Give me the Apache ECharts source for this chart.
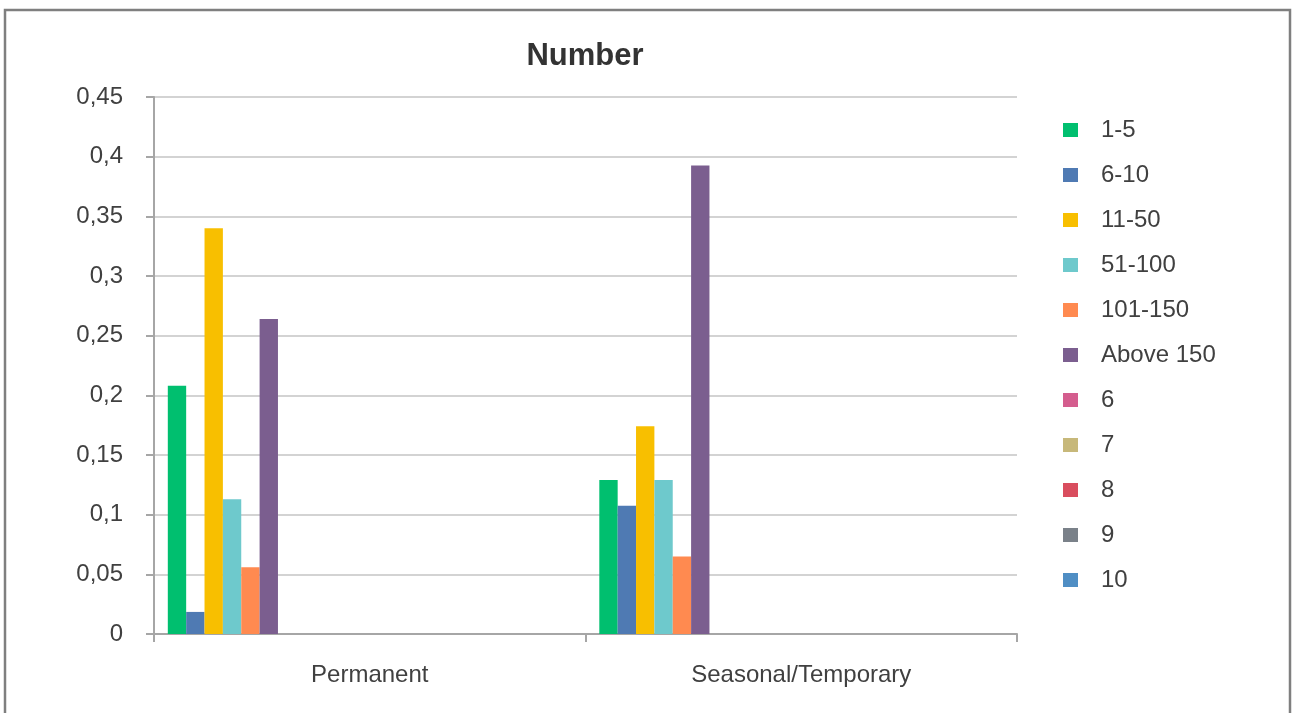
<!DOCTYPE html>
<html>
<head>
<meta charset="utf-8">
<script src="https://cdn.jsdelivr.net/npm/echarts@6/dist/echarts.min.js"></script>
<style>
  html, body { margin: 0; padding: 0; background: #ffffff; }
  #chart { width: 1293px; height: 713px; }
</style>
</head>
<body>
<div id="chart"></div>
<script>
// Share of workers by company size, per contract type
const categories = ['Permanent', 'Seasonal/Temporary'];
const seriesNames = ['1-5', '6-10', '11-50', '51-100', '101-150', 'Above 150', '6', '7', '8', '9', '10'];
const seriesColors = ['#00BF6F', '#4F7AB3', '#F8BF00', '#6EC9CC', '#FF8A50', '#7B5E8F',
                      '#D45D8E', '#C7B87A', '#D94D5E', '#7A8189', '#4F8EC4'];
const values1to5 = [0.208, 0.129];
const values6to10 = [0.0185, 0.1075];
const values11to50 = [0.34, 0.174];
const values51to100 = [0.113, 0.129];
const values101to150 = [0.056, 0.065];
const valuesAbove150 = [0.264, 0.3925];
const values6 = [0, 0];
const values7 = [0, 0];
const values8 = [0, 0];
const values9 = [0, 0];
const values10 = [0, 0];
// Unlabelled empty series slots that follow the named ones in each cluster
const emptySlotNames = ['11', '12', '13', '14', '15', '16', '17', '18', '19', '20', '21'];
const emptySlotValues = [0, 0];
const yTicks = { min: 0, max: 0.45, interval: 0.05 };

const seriesValues = [values1to5, values6to10, values11to50, values51to100, values101to150,
                      valuesAbove150, values6, values7, values8, values9, values10];

const FONT = '"Liberation Sans", Arial, sans-serif';
const TEXT = '#404040';

const series = seriesNames.map((name, i) => ({
  name: name,
  type: 'bar',
  data: seriesValues[i],
  itemStyle: { color: seriesColors[i] },
  barGap: '0%',
  barCategoryGap: '6.4%'
}));
emptySlotNames.forEach(name => {
  series.push({ name: name, type: 'bar', data: emptySlotValues, barGap: '0%', barCategoryGap: '6.4%', silent: true });
});

const chart = echarts.init(document.getElementById('chart'), null, { renderer: 'canvas' });
chart.setOption({
  animation: false,
  backgroundColor: '#ffffff',
  textStyle: { fontFamily: FONT },
  title: {
    text: 'Number',
    left: 580,
    textAlign: 'center',
    top: 36,
    textStyle: { fontFamily: FONT, fontSize: 31, fontWeight: 'bold', color: '#333333' }
  },
  graphic: [{
    type: 'rect',
    shape: { x: 5, y: 10, width: 1285, height: 740 },
    style: { fill: 'none', stroke: '#7f7f7f', lineWidth: 2.5 },
    silent: true
  }],
  legend: {
    data: seriesNames,
    orient: 'vertical',
    left: 1058,
    top: 113,
    itemWidth: 15,
    itemHeight: 14,
    itemGap: 21,
    icon: 'rect',
    selectedMode: false,
    textStyle: { fontFamily: FONT, fontSize: 24, color: TEXT, lineHeight: 24, padding: [0, 0, 0, 18] }
  },
  grid: { left: 154, right: 276, top: 97, bottom: 79, containLabel: false },
  xAxis: {
    type: 'category',
    data: categories,
    boundaryGap: true,
    axisLine: { lineStyle: { color: '#a6a6a6', width: 2 } },
    axisTick: { show: true, length: 8, lineStyle: { color: '#a6a6a6', width: 2 } },
    axisLabel: { fontFamily: FONT, fontSize: 24, color: TEXT, margin: 29 }
  },
  yAxis: {
    type: 'value',
    min: yTicks.min,
    max: yTicks.max,
    interval: yTicks.interval,
    axisLine: { show: true, lineStyle: { color: '#a6a6a6', width: 2 } },
    axisTick: { show: true, length: 8, lineStyle: { color: '#a6a6a6', width: 2 } },
    splitLine: { lineStyle: { color: '#c4c4c4', width: 1.5 } },
    axisLabel: {
      fontFamily: FONT, fontSize: 24, color: TEXT, margin: 31,
      padding: [3, 0, 0, 0],
      formatter: v => String(Math.round(v * 100) / 100).replace('.', ',')
    }
  },
  series: series
});
</script>
</body>
</html>
